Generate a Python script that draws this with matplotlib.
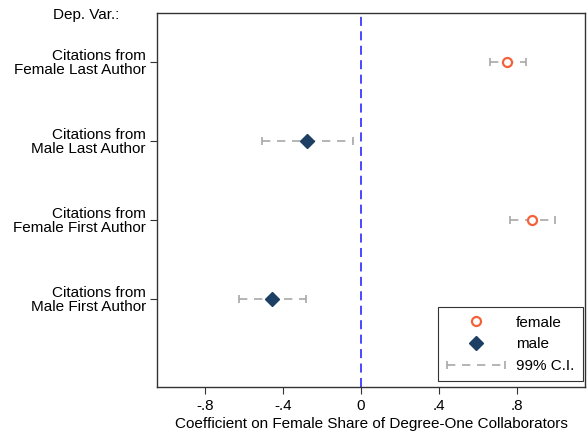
import matplotlib
matplotlib.use("Agg")
import matplotlib.pyplot as plt
from matplotlib.lines import Line2D
from matplotlib.legend_handler import HandlerBase

plt.rcParams["font.family"] = ["Liberation Sans", "DejaVu Sans"]

CATEGORIAS = ["Citations from\nFemale Last Author", "Citations from\nMale Last Author",
              "Citations from\nFemale First Author", "Citations from\nMale First Author"]
POSICIONES = [4, 3, 2, 1]
GRUPO = ["female", "male", "female", "male"]
COEF = [0.751, -0.277, 0.879, -0.458]
CI_BAJO = [0.660, -0.508, 0.764, -0.627]
CI_ALTO = [0.846, -0.043, 0.997, -0.284]
XTICKS = [-0.8, -0.4, 0, 0.4, 0.8]
XTICK_LABELS = ["-.8", "-.4", "0", ".4", ".8"]

COLOR_F = "#f4623a"
COLOR_M = "#1c3f63"
COLOR_CI = "#a8a8a8"
DASH_CI = (0, (5, 4))


class HandlerCI(HandlerBase):
    """Linea discontinua con topes en los extremos para la leyenda."""
    def create_artists(self, legend, orig_handle, xdescent, ydescent, width, height, fontsize, trans):
        y = height / 2 - ydescent
        xs = [-xdescent, width - xdescent]
        linea = Line2D(xs, [y, y], color=COLOR_CI, linestyle=DASH_CI, linewidth=1.2, transform=trans)
        topes = Line2D(xs, [y, y], color=COLOR_CI, linestyle="none", marker="|",
                       markersize=6, markeredgewidth=1.2, transform=trans)
        return [linea, topes]


fig = plt.figure(figsize=(5.88, 4.33), dpi=100)
ax = fig.add_axes([157 / 588, 1 - 387 / 433, (585 - 157) / 588, (387 - 13) / 433])

for y, g, c, lo, hi in zip(POSICIONES, GRUPO, COEF, CI_BAJO, CI_ALTO):
    ax.plot([lo, hi], [y, y], color=COLOR_CI, linestyle=DASH_CI, linewidth=1.2, zorder=1)
    ax.plot([lo, hi], [y, y], linestyle="none", marker="|", markersize=6,
            markeredgewidth=1.2, color=COLOR_CI, zorder=1)
    if g == "female":
        ax.plot(c, y, marker="o", markersize=6.5, markerfacecolor="white",
                markeredgecolor=COLOR_F, markeredgewidth=1.6, linestyle="none", zorder=3)
    else:
        ax.plot(c, y, marker="D", markersize=7.5, color=COLOR_M, linestyle="none", zorder=3)

ax.axvline(0, color="#3a3aff", linestyle=(0, (5, 3)), linewidth=1.3, zorder=2)

ax.set_xlim(-1.046, 1.149)
ax.set_ylim(-0.114, 4.614)
ax.set_xticks(XTICKS)
ax.set_xticklabels(XTICK_LABELS)
ax.set_yticks(POSICIONES)
ax.set_yticklabels(CATEGORIAS, ha="right", linespacing=1.0)
ax.tick_params(axis="both", labelsize=11, length=5, width=0.8, color="#333333")
ax.tick_params(axis="y", pad=3)
for s in ax.spines.values():
    s.set_color("#333333")
    s.set_linewidth(1.0)

ax.set_xlabel("Coefficient on Female Share of Degree-One Collaborators", fontsize=11, labelpad=3)
fig.text(53 / 588, 1 - 15 / 433, "Dep. Var.:", ha="left", va="center", fontsize=11)

handles = [
    Line2D([], [], marker="o", markersize=6.5, markerfacecolor="white",
           markeredgecolor=COLOR_F, markeredgewidth=1.6, linestyle="none"),
    Line2D([], [], marker="D", markersize=7.5, color=COLOR_M, linestyle="none"),
    Line2D([], []),
]
leg = ax.legend(handles, ["female", "male", "99% C.I."], loc="lower right",
                bbox_to_anchor=(0.995, 0.015), fontsize=11, fancybox=False,
                edgecolor="#333333", handlelength=3.8, handletextpad=0.75, framealpha=1,
                borderpad=0.55, labelspacing=0.5, borderaxespad=0,
                handler_map={handles[2]: HandlerCI()})
leg.get_frame().set_linewidth(0.8)

fig.savefig("out.png", dpi=100)
